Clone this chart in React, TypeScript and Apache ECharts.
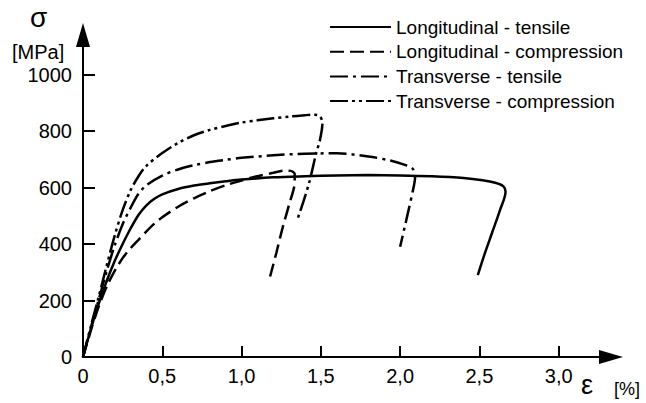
import { useEffect, useRef } from 'react';
import * as echarts from 'echarts';

const FONT = '"Liberation Sans", Arial, sans-serif';

const seriesNames = [
  'Longitudinal - tensile',
  'Longitudinal - compression',
  'Transverse - tensile',
  'Transverse - compression',
];

// strain [%], stress [MPa]
const longitudinalTensile: [number, number][] = [
  [0, 0], [0.05, 100], [0.1, 190], [0.15, 270], [0.2, 340], [0.25, 400], [0.3, 455],
  [0.35, 503], [0.4, 537], [0.45, 560], [0.5, 576], [0.6, 595], [0.7, 607], [0.8, 615],
  [0.9, 622], [1.0, 628], [1.2, 636], [1.4, 640], [1.6, 643], [1.8, 644], [2.0, 643],
  [2.2, 640], [2.4, 634], [2.52, 626], [2.6, 617], [2.65, 605], [2.665, 585],
  [2.63, 520], [2.58, 440], [2.53, 360], [2.49, 290],
];

const longitudinalCompression: [number, number][] = [
  [0, 0], [0.05, 95], [0.1, 180], [0.15, 250], [0.2, 305], [0.25, 350], [0.3, 385],
  [0.35, 415], [0.4, 445], [0.45, 472], [0.5, 495], [0.6, 532], [0.7, 562], [0.8, 587],
  [0.9, 608], [1.0, 625], [1.1, 640], [1.2, 652], [1.27, 660], [1.31, 659], [1.335, 648],
  [1.335, 620], [1.3, 540], [1.26, 460], [1.22, 370], [1.18, 285],
];

const transverseTensile: [number, number][] = [
  [0, 0], [0.05, 105], [0.1, 205], [0.15, 305], [0.2, 395], [0.25, 470], [0.3, 528],
  [0.35, 578], [0.4, 608], [0.5, 642], [0.6, 664], [0.7, 679], [0.8, 690], [0.9, 698],
  [1.0, 705], [1.2, 714], [1.4, 720], [1.6, 721], [1.8, 710], [1.95, 694], [2.03, 680],
  [2.08, 666], [2.095, 645], [2.09, 615], [2.05, 512], [2.0, 390],
];

const transverseCompression: [number, number][] = [
  [0, 0], [0.05, 110], [0.1, 215], [0.15, 325], [0.2, 430], [0.25, 520], [0.3, 590],
  [0.35, 640], [0.4, 677], [0.5, 722], [0.6, 758], [0.7, 785], [0.8, 804], [0.9, 818],
  [1.0, 830], [1.1, 838], [1.2, 845], [1.3, 851], [1.4, 856], [1.46, 858], [1.495, 852],
  [1.51, 828], [1.495, 770], [1.47, 720], [1.43, 625], [1.39, 550], [1.35, 484],
];

const seriesData = [longitudinalTensile, longitudinalCompression, transverseTensile, transverseCompression];
const seriesDash: (string | number[])[] = ['solid', [14, 6], [18, 5, 3, 5], [18, 4, 3, 4, 3, 4]];

const xTickValues = [0.5, 1.0, 1.5, 2.0, 2.5, 3.0];
const xLabelValues = [0, 0.5, 1.0, 1.5, 2.0, 2.5, 3.0];
const yTickValues = [200, 400, 600, 800, 1000];
const yLabelValues = [0, 200, 400, 600, 800, 1000];

export default function App() {
  const ref = useRef<HTMLDivElement>(null);
  useEffect(() => {
    if (!ref.current) return;
    const chart = echarts.init(ref.current, null, { renderer: 'svg' });
    chart.setOption({
      animation: false,
      backgroundColor: '#ffffff',
      textStyle: { fontFamily: FONT },
      grid: { left: 83, right: 35, top: 35, bottom: 46 },
      legend: {
        orient: 'vertical',
        left: 329,
        top: 17,
        padding: 0,
        itemWidth: 61,
        itemHeight: 20,
        itemGap: 4.7,
        itemTextGap: 12,
        itemStyle: { opacity: 0 },
        textStyle: { fontSize: 19, fontFamily: FONT, color: '#000', lineHeight: 20 },
        data: seriesNames,
      },
      xAxis: {
        type: 'value',
        min: 0,
        max: 3.33,
        axisLine: {
          show: true,
          lineStyle: { color: '#000', width: 2 },
          symbol: ['none', 'triangle'],
          symbolSize: [14, 24],
        },
        axisTick: { show: true, inside: true, length: 11, lineStyle: { color: '#000', width: 2 }, customValues: xTickValues },
        axisLabel: {
          show: true,
          color: '#000',
          fontSize: 20,
          fontFamily: FONT,
          margin: 9,
          customValues: xLabelValues,
          formatter: (v: number) => (v === 0 ? '0' : v.toFixed(1).replace('.', ',')),
        },
        splitLine: { show: false },
      },
      yAxis: {
        type: 'value',
        min: 0,
        max: 1140,
        axisLine: {
          show: true,
          lineStyle: { color: '#000', width: 2 },
          symbol: ['none', 'triangle'],
          symbolSize: [14, 24],
        },
        axisTick: { show: true, inside: true, length: 12, lineStyle: { color: '#000', width: 2 }, customValues: yTickValues },
        axisLabel: {
          show: true,
          color: '#000',
          fontSize: 20,
          fontFamily: FONT,
          margin: 11,
          customValues: yLabelValues,
          formatter: (v: number) => String(v),
        },
        splitLine: { show: false },
      },
      graphic: [
        { type: 'text', left: 30, top: 3, style: { text: 'σ', fontSize: 28, fontFamily: FONT, fill: '#000' } },
        { type: 'text', left: 12, top: 42, style: { text: '[MPa]', fontSize: 20, fontFamily: FONT, fill: '#000' } },
        { type: 'text', left: 581, top: 371, style: { text: 'ε', fontSize: 27, fontFamily: FONT, fill: '#000' } },
        { type: 'text', left: 614, top: 380, style: { text: '[%]', fontSize: 18, fontFamily: FONT, fill: '#000' } },
      ],
      series: seriesNames.map((name, i) => ({
        name,
        type: 'line',
        data: seriesData[i],
        symbol: 'none',
        showSymbol: false,
        smooth: 0.3,
        clip: false,
        lineStyle: { color: '#000', width: 2.5, type: seriesDash[i] },
        itemStyle: { color: '#000' },
      })),
    });
    return () => chart.dispose();
  }, []);
  return <div ref={ref} style={{ width: 646, height: 403, position: 'absolute', left: 0, top: 0 }} />;
}
